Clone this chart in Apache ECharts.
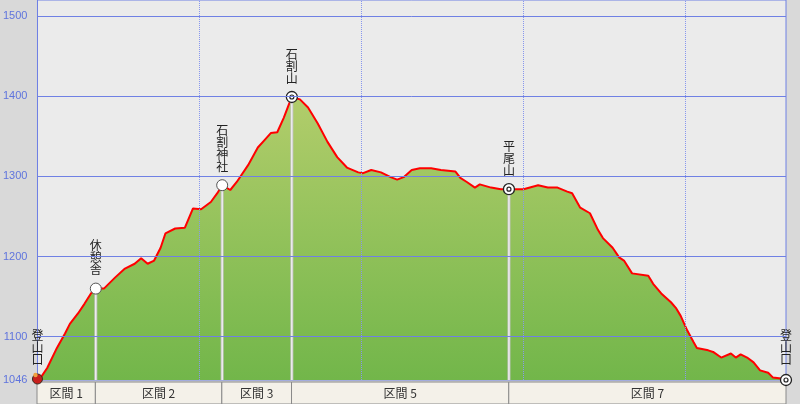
<!DOCTYPE html>
<html>
<head>
<meta charset="utf-8">
<script src="https://cdn.jsdelivr.net/npm/echarts@6/dist/echarts.min.js"></script>
<style>
  html, body {
    margin: 0;
    padding: 0;
    background: #d9d9d9;
  }
  #profile {
    width: 800px;
    height: 404px;
  }
</style>
</head>
<body>
<div id="profile"></div>
<script>
  // 距離(km)と標高(m)
  const distKm = [0, 0.02, 0.06, 0.12, 0.17, 0.20, 0.25, 0.29, 0.33, 0.36, 0.41, 0.48, 0.54, 0.60, 0.64,
    0.68, 0.72, 0.76, 0.79, 0.85, 0.91, 0.96, 1.01, 1.07, 1.11, 1.14, 1.19, 1.23, 1.30, 1.36, 1.40, 1.44,
    1.48, 1.52, 1.55, 1.57, 1.62, 1.67, 1.73, 1.79, 1.85, 1.91, 1.98, 2.01, 2.06, 2.12, 2.18, 2.22, 2.26,
    2.31, 2.36, 2.43, 2.49, 2.58, 2.61, 2.65, 2.70, 2.73, 2.80, 2.86, 2.91, 3.00, 3.09, 3.15, 3.21, 3.27,
    3.30, 3.35, 3.41, 3.46, 3.49, 3.55, 3.59, 3.62, 3.67, 3.77, 3.80, 3.85, 3.91, 3.94, 3.97, 4.01, 4.05,
    4.07, 4.14, 4.17, 4.22, 4.28, 4.31, 4.34, 4.38, 4.42, 4.46, 4.51, 4.54, 4.59, 4.62];
  const elev = [1046, 1049, 1061, 1086, 1104, 1116, 1129, 1141, 1154, 1160, 1160, 1174, 1185, 1191, 1198,
    1191, 1195, 1211, 1229, 1235, 1236, 1260, 1259, 1268, 1279, 1289, 1283, 1293, 1314, 1336, 1345, 1354,
    1355, 1373, 1389, 1399, 1396, 1386, 1366, 1343, 1324, 1311, 1305, 1304, 1308, 1305, 1299, 1296, 1299,
    1308, 1310, 1310, 1308, 1306, 1298, 1293, 1286, 1290, 1286, 1284, 1284, 1284, 1289, 1286, 1286, 1281,
    1279, 1261, 1254, 1233, 1223, 1211, 1199, 1195, 1179, 1176, 1166, 1154, 1143, 1136, 1126, 1108, 1093,
    1086, 1083, 1081, 1074, 1079, 1074, 1078, 1074, 1068, 1058, 1055, 1049, 1048, 1046];

  const yTicks = [1046, 1100, 1200, 1300, 1400, 1500];
  const gridElev = [1100, 1200, 1300, 1400, 1500];
  const gridKm = [1, 2, 3, 4];

  // 地点
  const wpName = ['登山口', '休憩舎', '石割神社', '石割山', '平尾山', '登山口'];
  const wpKm = [0, 0.36, 1.14, 1.57, 2.91, 4.62];
  const wpElev = [1046, 1160, 1289, 1399, 1284, 1046];
  const wpType = ['start', 'rest', 'rest', 'peak', 'peak', 'peak'];

  // 区間
  const secStart = [0, 0.36, 1.14, 1.57, 2.91];
  const secEnd = [0.36, 1.14, 1.57, 2.91, 4.62];
  const secLabel = ['区間 1', '区間 2', '区間 3', '区間 5', '区間 7'];

  const minElev = 1046;
  const maxElev = 1520;
  const maxKm = 4.62;
  const cjkFont = '"Noto Sans CJK JP", sans-serif';

  const profileData = distKm.map((d, i) => [d, elev[i]]);

  const gridLines = gridElev.map(v => ({
    yAxis: v,
    lineStyle: {color: '#6f80e4', width: 1, type: 'solid'}
  })).concat(gridKm.map(v => ({
    xAxis: v,
    lineStyle: {color: '#8796ee', width: 1, type: 'dotted'}
  })));

  function renderPoint(params, api) {
    const i = params.dataIndex;
    const p = api.coord([api.value(0), api.value(1)]);
    const bottom = api.coord([api.value(0), minElev])[1];
    const children = [];
    const type = wpType[i];

    // 下へ伸びる白線
    if (i > 0 && i < wpName.length - 1) {
      children.push({
        type: 'line',
        shape: {x1: p[0], y1: p[1], x2: p[0], y2: bottom},
        style: {stroke: '#c2c2c2', lineWidth: 3}
      });
      children.push({
        type: 'line',
        shape: {x1: p[0], y1: p[1], x2: p[0], y2: bottom},
        style: {stroke: '#ffffff', lineWidth: 1}
      });
    }

    if (type === 'peak') {
      children.push({
        type: 'circle',
        shape: {cx: p[0], cy: p[1], r: 5.5},
        style: {fill: '#ffffff', stroke: '#222222', lineWidth: 1.3}
      });
      children.push({
        type: 'circle',
        shape: {cx: p[0], cy: p[1], r: 2},
        style: {fill: '#ffffff', stroke: '#222222', lineWidth: 1.2}
      });
    } else if (type === 'rest') {
      children.push({
        type: 'circle',
        shape: {cx: p[0], cy: p[1], r: 5.5},
        style: {fill: '#ffffff', stroke: '#555555', lineWidth: 1}
      });
    } else {
      // 登山者アイコン(簡略)
      children.push({
        type: 'circle',
        shape: {cx: p[0], cy: p[1] - 1, r: 5},
        style: {fill: '#c8201c', stroke: '#3a2a20', lineWidth: 1}
      });
      children.push({
        type: 'circle',
        shape: {cx: p[0] - 2, cy: p[1] - 5, r: 2.2},
        style: {fill: '#f0a040', stroke: null}
      });
    }

    const gap = i === 0 || i === wpName.length - 1 ? 15 : 13;
    children.push({
      type: 'text',
      x: p[0],
      y: p[1] - gap,
      style: {
        text: wpName[i].split('').join('\n'),
        textAlign: 'center',
        textVerticalAlign: 'bottom',
        align: 'center',
        verticalAlign: 'bottom',
        font: '12px ' + cjkFont,
        lineHeight: 12,
        fill: '#222222'
      }
    });
    return {type: 'group', children: children};
  }

  function renderSection(params, api) {
    const p0 = api.coord([api.value(0), 1]);
    const p1 = api.coord([api.value(1), 0]);
    return {
      type: 'group',
      children: [{
        type: 'rect',
        shape: {x: p0[0], y: p0[1], width: p1[0] - p0[0], height: p1[1] - p0[1]},
        style: {fill: '#f4f1e9', stroke: '#8a8a8a', lineWidth: 1}
      }, {
        type: 'text',
        x: (p0[0] + p1[0]) / 2,
        y: (p0[1] + p1[1]) / 2,
        style: {
          text: secLabel[params.dataIndex],
          textAlign: 'center',
          textVerticalAlign: 'middle',
          align: 'center',
          verticalAlign: 'middle',
          font: '12px ' + cjkFont,
          fill: '#333333'
        }
      }]
    };
  }

  const chart = echarts.init(document.getElementById('profile'));
  let option = {
    backgroundColor: '#d9d9d9',
    animation: false,
    grid: [{
      left: 37,
      right: 14,
      top: 0,
      bottom: 24,
      show: true,
      backgroundColor: '#ebebeb',
      borderColor: '#6f80e4',
      borderWidth: 1
    }, {
      left: 37,
      right: 14,
      top: 382,
      height: 22
    }],
    xAxis: [{
      type: 'value',
      gridIndex: 0,
      min: 0,
      max: maxKm,
      show: false
    }, {
      type: 'value',
      gridIndex: 1,
      min: 0,
      max: maxKm,
      show: false
    }],
    yAxis: [{
      type: 'value',
      gridIndex: 0,
      min: minElev,
      max: maxElev,
      axisLine: {show: true, lineStyle: {color: '#6f80e4'}},
      axisTick: {show: false},
      splitLine: {show: false},
      axisLabel: {
        customValues: yTicks,
        formatter: v => String(v),
        color: '#5f74dd',
        fontSize: 11,
        fontFamily: '"Liberation Sans", sans-serif',
        margin: 10
      }
    }, {
      type: 'value',
      gridIndex: 1,
      min: 0,
      max: 1,
      show: false
    }],
    series: [
      {
        // 塗りつぶし
        type: 'line',
        data: profileData,
        showSymbol: false,
        silent: true,
        z: 1,
        lineStyle: {width: 0},
        areaStyle: {
          origin: 'start',
          opacity: 1,
          color: new echarts.graphic.LinearGradient(0, 0, 0, 1, [
            {offset: 0, color: '#b2cd6b'},
            {offset: 1, color: '#72b64a'}
          ])
        },
        markLine: {
          silent: true,
          symbol: 'none',
          label: {show: false},
          data: gridLines
        }
      },
      {
        // 赤い線
        type: 'line',
        data: profileData,
        showSymbol: false,
        silent: true,
        z: 3,
        lineStyle: {color: '#ff0000', width: 2}
      },
      {
        type: 'custom',
        z: 4,
        clip: false,
        silent: true,
        renderItem: renderPoint,
        data: wpKm.map((d, i) => [d, wpElev[i]])
      },
      {
        type: 'custom',
        xAxisIndex: 1,
        yAxisIndex: 1,
        silent: true,
        renderItem: renderSection,
        data: secStart.map((s, i) => [s, secEnd[i]])
      }
    ]
  };
  chart.setOption(option);
</script>
</body>
</html>
